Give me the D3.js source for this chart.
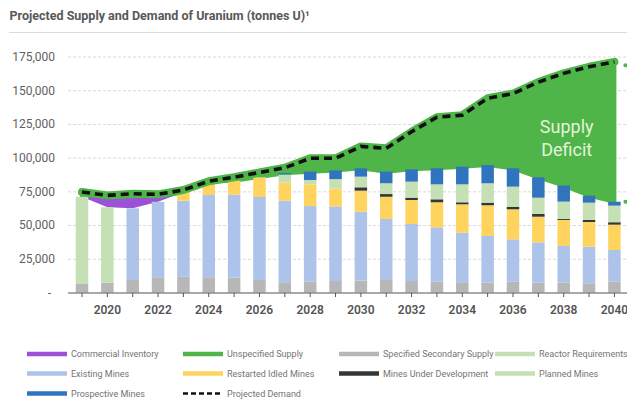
<!DOCTYPE html>
<html>
<head>
<meta charset="utf-8">
<script src="https://cdn.jsdelivr.net/npm/d3@7"></script>
<style>
  body { margin: 0; background: #ffffff; }
  svg { display: block; font-family: Roboto, "Noto Sans", "Liberation Sans", sans-serif; }
</style>
</head>
<body>
<svg id="chart" width="627" height="403"></svg>
<script>
// Projected uranium supply and demand, tonnes U, 2019-2040
const years = d3.range(2019, 2041);

const secondarySupply = [6300, 7300, 9300, 11300, 11700, 11300, 11000, 9300, 7600, 8000, 8500,
  8800, 9300, 8500, 8000, 7600, 7300, 8000, 7300, 7300, 6800, 8000];
const reactorRequirements = [64700, 55900, 0, 0, 0, 0, 0, 0, 0, 0, 0,
  0, 0, 0, 0, 0, 0, 0, 0, 0, 0, 0];
const existingMines = [0, 0, 53100, 56000, 56400, 61000, 61500, 61500, 60500, 56100, 55300,
  51100, 45200, 42300, 40300, 36700, 34600, 31400, 29900, 27200, 27200, 23500];
const restartedIdledMines = [0, 0, 0, 0, 6200, 10000, 10400, 14500, 13500, 16100, 13400,
  15600, 16500, 17800, 18600, 21100, 22800, 22300, 19000, 19300, 18300, 18800];
const minesUnderDevelopment = [0, 0, 0, 0, 0, 0, 0, 0, 0, 0, 0,
  2500, 2000, 1700, 2200, 1500, 1900, 1900, 2000, 800, 1500, 1800];
const plannedMines = [0, 0, 0, 0, 0, 0, 0, 300, 5900, 3200, 6900,
  7900, 8000, 11900, 11100, 13300, 14400, 14900, 12100, 12800, 12800, 12300];
const prospectiveMines = [0, 0, 0, 0, 0, 0, 0, 0, 1000, 6200, 6400,
  6200, 8600, 9100, 11900, 13100, 13500, 13600, 15100, 11900, 5200, 2900];
const commercialInventory = [0, 6500, 7400, 3700, 0, 0, 0, 0, 0, 0, 0,
  0, 0, 0, 0, 0, 0, 0, 0, 0, 0, 0];
const projectedDemand = [74500, 72000, 73200, 72800, 76000, 82500, 85500, 89000, 92500, 99500, 99500,
  108300, 106900, 119200, 130000, 131500, 144000, 147500, 156000, 162500, 167400, 171000];

const yTicks = [0, 25000, 50000, 75000, 100000, 125000, 150000, 175000];
const xTickLabels = [2020, 2022, 2024, 2026, 2028, 2030, 2032, 2034, 2036, 2038, 2040];

const colors = {
  secondary: "#b7b7b7",
  reactor: "#c6e0b6",
  existing: "#adc3e9",
  restarted: "#fed45f",
  underDev: "#363636",
  planned: "#c6e0b6",
  prospective: "#2f74bc",
  inventory: "#9b52d6",
  unspecified: "#4fb548",
  demand: "#111111"
};

const stackKeys = ["secondary", "reactor", "existing", "restarted", "underDev", "planned", "prospective"];
const table = years.map((yr, i) => ({
  year: yr,
  secondary: secondarySupply[i],
  reactor: reactorRequirements[i],
  existing: existingMines[i],
  restarted: restartedIdledMines[i],
  underDev: minesUnderDevelopment[i],
  planned: plannedMines[i],
  prospective: prospectiveMines[i],
  inventory: commercialInventory[i],
  demand: projectedDemand[i]
}));
table.forEach(d => { d.supply = d3.sum(stackKeys, k => d[k]); });

const svg = d3.select("#chart");
const W = 627, H = 403;

const x = d3.scaleLinear().domain([2019, 2040]).range([82, 614.4]);
const y = d3.scaleLinear().domain([0, 175000]).range([292.5, 56.5]);
const barW = 12.5;

// Title
svg.append("text")
  .attr("x", 9.5).attr("y", 19.5)
  .attr("fill", "#585858")
  .attr("font-size", 12.5).attr("font-weight", 700)
  .text("Projected Supply and Demand of Uranium (tonnes U)\u00b9");
svg.append("line")
  .attr("x1", 9).attr("x2", W).attr("y1", 32.5).attr("y2", 32.5)
  .attr("stroke", "#dcdcdc").attr("stroke-width", 1);

// Horizontal gridlines
const gridX0 = x(2018.45);
svg.append("g").selectAll("line")
  .data(yTicks.filter(t => t > 0))
  .join("line")
  .attr("x1", gridX0).attr("x2", W)
  .attr("y1", d => y(d) + 0.5).attr("y2", d => y(d) + 0.5)
  .attr("stroke", "#d9d9d9").attr("stroke-width", 1)
  .attr("stroke-dasharray", "3 2");

// Y axis labels
const yAxis = d3.axisLeft(y).tickValues(yTicks).tickSize(0).tickPadding(0)
  .tickFormat(d => d === 0 ? "-" : d3.format(",")(d));
const gy = svg.append("g").attr("transform", "translate(55,0)").call(yAxis);
gy.select(".domain").remove();
gy.selectAll("text").attr("font-size", 12).attr("fill", "#5f5f5f")
  .attr("font-family", "Roboto, sans-serif");
gy.selectAll(".tick").filter(d => d === 0).select("text").attr("dx", -4);

// Unspecified supply (gap between supply and demand)
const unspecifiedArea = d3.area()
  .x(d => x(d.year))
  .y0(d => y(d.supply + d.inventory))
  .y1(d => y(Math.max(d.demand, d.supply + d.inventory)));
svg.append("path")
  .datum(table)
  .attr("d", unspecifiedArea)
  .attr("fill", colors.unspecified)
  .attr("stroke", colors.unspecified)
  .attr("stroke-width", 4)
  .attr("stroke-linejoin", "round");

// Commercial inventory band
const inventoryArea = d3.area()
  .x(d => x(d.year))
  .y0(d => y(d.supply))
  .y1(d => y(d.supply + d.inventory));
svg.append("path")
  .datum(table.slice(0, 5))
  .attr("d", inventoryArea)
  .attr("fill", colors.inventory);

// Stacked supply bars
const series = d3.stack().keys(stackKeys)(table);
svg.append("g").selectAll("g")
  .data(series)
  .join("g")
  .attr("fill", s => colors[s.key])
  .selectAll("rect")
  .data(s => s.filter(d => d[1] - d[0] > 0))
  .join("rect")
  .attr("x", d => x(d.data.year) - barW / 2)
  .attr("width", barW)
  .attr("y", d => y(d[1]))
  .attr("height", d => y(d[0]) - y(d[1]));

// X axis
const gx = svg.append("g").attr("transform", `translate(0,${y(0) + 0.5})`);
gx.append("line").attr("x1", x(2018.45)).attr("x2", W)
  .attr("stroke", "#555").attr("stroke-width", 1.2);
gx.selectAll(".tk").data(years).join("line").attr("class", "tk")
  .attr("x1", d => x(d)).attr("x2", d => x(d))
  .attr("y1", 0).attr("y2", 4)
  .attr("stroke", "#555").attr("stroke-width", 1);
gx.selectAll("text").data(xTickLabels).join("text")
  .attr("x", d => x(d)).attr("y", 20.5)
  .attr("text-anchor", "middle")
  .attr("font-size", 12).attr("font-weight", 600)
  .attr("fill", "#555")
  .text(d => d);

// Projected demand: green halo plus dashed line
const demandLine = d3.line().x(d => x(d.year)).y(d => y(d.demand));
svg.append("path").datum(table).attr("d", demandLine)
  .attr("fill", "none").attr("stroke", colors.unspecified)
  .attr("stroke-width", 8).attr("stroke-linejoin", "round").attr("stroke-linecap", "round");
svg.append("path").datum(table).attr("d", demandLine)
  .attr("fill", "none").attr("stroke", colors.demand)
  .attr("stroke-width", 3.6).attr("stroke-dasharray", "8 5");

// Markers beyond the 2040 column
const last = table[table.length - 1];
svg.append("g").selectAll("circle")
  .data([last.demand - 2500, last.supply])
  .join("circle")
  .attr("cx", x(2040) + 11).attr("cy", d => y(d)).attr("r", 2)
  .attr("fill", colors.unspecified);

// Deficit annotation
const note = svg.append("text")
  .attr("x", x(2038) + 3).attr("text-anchor", "middle")
  .attr("font-size", 18).attr("fill", "#e3f3da");
note.append("tspan").attr("x", x(2038) + 3).attr("y", 133).text("Supply");
note.append("tspan").attr("x", x(2038) + 3).attr("y", 156).text("Deficit");

// Legend
const legendItems = [
  { label: "Commercial Inventory", color: colors.inventory },
  { label: "Unspecified Supply", color: colors.unspecified },
  { label: "Specified Secondary Supply", color: colors.secondary },
  { label: "Reactor Requirements", color: colors.reactor },
  { label: "Existing Mines", color: colors.existing },
  { label: "Restarted Idled Mines", color: colors.restarted },
  { label: "Mines Under Development", color: colors.underDev },
  { label: "Planned Mines", color: colors.planned },
  { label: "Prospective Mines", color: colors.prospective },
  { label: "Projected Demand", color: colors.demand, dashed: true }
];
const colX = [27, 183, 339, 495];
const rowY = [354, 373.5, 393.5];
const lg = svg.append("g").selectAll("g")
  .data(legendItems)
  .join("g")
  .attr("transform", (d, i) => `translate(${colX[i % 4]},${rowY[Math.floor(i / 4)]})`);
lg.append("line")
  .attr("x1", 0).attr("x2", 40).attr("y1", 0).attr("y2", 0)
  .attr("stroke", d => d.color)
  .attr("stroke-width", d => d.dashed ? 2.5 : 4.5)
  .attr("stroke-dasharray", d => d.dashed ? "5 3" : null);
lg.append("text")
  .attr("x", 44).attr("y", 3.2)
  .attr("font-size", 9).attr("fill", "#747474")
  .text(d => d.label);
</script>
</body>
</html>
